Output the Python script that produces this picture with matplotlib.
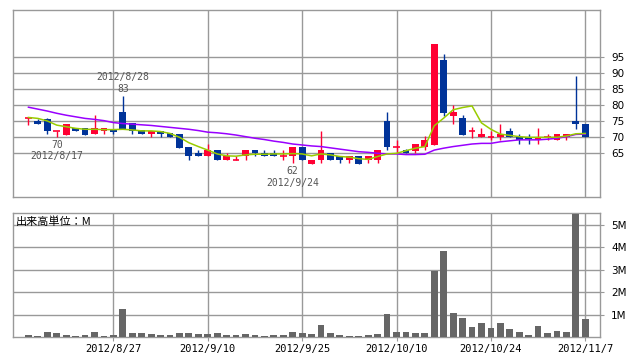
import matplotlib
matplotlib.use("Agg")
import matplotlib.pyplot as plt
import numpy as np

# trading days shown on the chart
dates = [
    "2012/8/14", "2012/8/15", "2012/8/16", "2012/8/17", "2012/8/20", "2012/8/21",
    "2012/8/22", "2012/8/23", "2012/8/24", "2012/8/27", "2012/8/28", "2012/8/29",
    "2012/8/30", "2012/8/31", "2012/9/3", "2012/9/4", "2012/9/5", "2012/9/6",
    "2012/9/7", "2012/9/10", "2012/9/11", "2012/9/12", "2012/9/13", "2012/9/14",
    "2012/9/18", "2012/9/19", "2012/9/20", "2012/9/21", "2012/9/24", "2012/9/25",
    "2012/9/26", "2012/9/27", "2012/9/28", "2012/10/1", "2012/10/2", "2012/10/3",
    "2012/10/4", "2012/10/5", "2012/10/9", "2012/10/10", "2012/10/11", "2012/10/12",
    "2012/10/15", "2012/10/16", "2012/10/17", "2012/10/18", "2012/10/19", "2012/10/22",
    "2012/10/23", "2012/10/24", "2012/10/25", "2012/10/26", "2012/10/29", "2012/10/30",
    "2012/10/31", "2012/11/1", "2012/11/2", "2012/11/5", "2012/11/6", "2012/11/7",
]

opens = [76, 75.2, 75.8, 72, 70.8, 73, 73, 71, 72, 72.3,
         78, 74.5, 72.2, 71, 72, 71.2, 71, 67, 65, 64,
         66, 62.8, 62.8, 64, 66, 65, 65, 64, 64, 67,
         61.8, 62.8, 65, 64, 62.8, 64, 62.8, 62.8, 75.2, 67,
         66, 65.8, 67, 67.6, 94.2, 76.7, 76, 72, 70, 70,
         70, 72, 70, 70, 69, 70, 69, 70, 75.2, 74.2]
highs = [76.2, 75.8, 76, 72.1, 74.2, 73, 73, 77, 73, 72.3,
         83, 74.5, 72.2, 72, 72, 71.2, 71, 67, 66, 68,
         66, 65, 64, 66, 66, 66, 66, 66, 67, 67,
         62.8, 72, 65, 64, 64, 64, 64, 66, 78, 69,
         66.2, 68, 70.3, 99.2, 96, 80, 77, 73.3, 72.8, 72,
         74, 72.9, 71, 71, 72.9, 71, 71, 71, 89.2, 74.2]
lows = [73.8, 74.1, 71, 70.2, 70.8, 72, 70.8, 71, 71, 71,
        72.6, 71, 71, 70, 70, 70, 66.8, 62.8, 64, 64,
        62.8, 62.8, 62.8, 62.8, 64, 64, 64, 62.8, 62, 62.8,
        61.8, 62, 62.8, 62, 62, 61.8, 62, 62, 66, 65,
        65, 65, 66, 67.6, 76.7, 74, 70.8, 69.9, 70, 69,
        69, 70, 68, 68, 68, 69, 69, 69, 72.7, 70]
closes = [76, 74.1, 72, 72, 74.2, 72, 70.8, 73, 73, 71.8,
          72.6, 72.1, 71, 72, 71, 70, 66.8, 64, 64, 66,
          62.8, 64, 62.8, 66, 65, 64, 64, 64, 67, 62.8,
          62.8, 66, 62.8, 62.8, 64, 61.8, 64, 66, 67, 67,
          65, 68, 69.2, 99.2, 77.7, 77.9, 70.8, 72, 71, 70,
          71, 70, 69.2, 69.6, 70, 70, 71, 71, 74, 70]

ma_short = [76.2, 75.9, 75.1, 73.8, 73.3, 72.8, 72.5, 72.5, 72.4, 72.4,
            72.5, 72.3, 72.0, 72.0, 71.8, 71.2, 70.0, 68.3, 67.1, 66.0,
            64.8, 64.2, 64.1, 64.5, 64.7, 64.7, 64.8, 64.8, 64.9, 64.8,
            64.2, 64.8, 64.5, 64.0, 63.8, 63.3, 63.1, 64.0, 64.8, 65.0,
            65.8, 66.6, 67.1, 73.6, 76.0, 78.6, 79.3, 79.8, 74.5, 72.5,
            71.0, 70.6, 70.2, 70.0, 70.0, 70.0, 70.0, 70.4, 71.1, 71.2]
ma_long = [79.4, 78.8, 78.2, 77.5, 76.9, 76.4, 75.9, 75.6, 75.2, 74.6,
           74.3, 74.1, 73.9, 73.7, 73.4, 73.1, 72.8, 72.5, 72.1, 71.6,
           71.4, 71.1, 70.7, 70.2, 69.7, 69.3, 68.8, 68.4, 67.9, 67.6,
           67.3, 67.1, 66.7, 66.3, 65.9, 65.5, 65.3, 65.0, 64.8, 64.8,
           64.6, 64.6, 64.7, 66.0, 66.6, 67.1, 67.5, 67.9, 68.1, 68.1,
           68.6, 68.9, 69.2, 69.2, 69.2, 69.4, 69.7, 70.2, 70.9, 71.0]

# volume in millions of shares
volume = [0.09, 0.045, 0.22, 0.18, 0.09, 0.045, 0.09, 0.22, 0.045, 0.09,
          1.24, 0.18, 0.18, 0.13, 0.09, 0.09, 0.18, 0.18, 0.13, 0.13,
          0.18, 0.09, 0.09, 0.13, 0.09, 0.045, 0.09, 0.09, 0.22, 0.18,
          0.13, 0.53, 0.18, 0.09, 0.045, 0.045, 0.09, 0.13, 1.02, 0.22,
          0.22, 0.18, 0.18, 2.93, 3.82, 1.07, 0.86, 0.44, 0.62, 0.40,
          0.62, 0.36, 0.22, 0.09, 0.49, 0.18, 0.27, 0.22, 5.47, 0.80]

price_ticks = [65, 70, 75, 80, 85, 90, 95]
vol_ticks = [1, 2, 3, 4, 5]
date_ticks = [9, 19, 29, 39, 49, 59]
# (index, label text, above/below)
notes = [(10, "2012/8/28\n83", "high"), (3, "70\n2012/8/17", "low"),
         (28, "62\n2012/9/24", "low")]

UP = "#ff0033"
DOWN = "#003399"
GRID = "#999999"

plt.rcParams["font.family"] = ["DejaVu Sans", "Noto Sans CJK JP"]

W, H = 638, 362
fig = plt.figure(figsize=(W / 100, H / 100), dpi=100)
fig.patch.set_facecolor("white")

left, right = 12.5 / W, 600 / W
ax1 = fig.add_axes([left, 1 - 197 / H, right - left, (197 - 10) / H])
ax2 = fig.add_axes([left, 1 - 337 / H, right - left, (337 - 212.5) / H])

x = np.arange(len(dates))
opens = np.array(opens)
closes = np.array(closes)
up = closes >= opens
colors = np.where(up, UP, DOWN)
bw = 0.72

# wicks
ax1.vlines(x, lows, highs, colors=colors, linewidth=1.0, zorder=3)
# bodies
body_lo = np.minimum(opens, closes)
body_h = np.abs(closes - opens)
is_doji = body_h < 0.15
ax1.bar(x[~is_doji], body_h[~is_doji], bottom=body_lo[~is_doji], width=bw,
        color=colors[~is_doji], linewidth=0, zorder=4)
ax1.hlines(opens[is_doji], x[is_doji] - bw / 2, x[is_doji] + bw / 2,
           colors=colors[is_doji], linewidth=1.2, zorder=4)

ax1.plot(x, ma_long, color="#9900ff", linewidth=1.1, zorder=5)
ax1.plot(x, ma_short, color="#99cc00", linewidth=1.1, zorder=5)

for idx, txt, kind in notes:
    if kind == "high":
        ax1.annotate(txt, (idx, highs[idx]), xytext=(0, 1.5), textcoords="offset points",
                     ha="center", va="bottom", fontsize=7, color="#555555",
                     family="DejaVu Sans Mono", linespacing=1.15)
    else:
        ax1.annotate(txt, (idx, lows[idx]), xytext=(0, -2.5), textcoords="offset points",
                     ha="center", va="top", fontsize=7, color="#555555",
                     family="DejaVu Sans Mono", linespacing=1.15)

ax2.bar(x, volume, width=bw, color="#666666", linewidth=0, zorder=3)
ax2.text(0.006, 0.93, "出来高単位：M", transform=ax2.transAxes, fontsize=8,
         family=["Noto Sans CJK JP", "DejaVu Sans"], ha="left", va="center")

for ax in (ax1, ax2):
    ax.set_xlim(-1.69, 60.56)
    ax.set_xticks(date_ticks)
    ax.grid(True, color=GRID, linewidth=1.0)
    ax.set_axisbelow(True)
    for sp in ax.spines.values():
        sp.set_color(GRID)
        sp.set_linewidth(1.0)
    ax.yaxis.tick_right()
    ax.tick_params(axis="y", length=3, color=GRID, labelsize=7.5, pad=5)
    ax.tick_params(axis="x", length=3, color=GRID, labelsize=7.5, pad=2)

ax1.set_ylim(51.34, 109.78)
ax1.set_yticks(price_ticks)
ax1.set_xticklabels([])
ax1.tick_params(axis="x", length=0)

ax2.set_ylim(0, 5.54)
ax2.set_yticks(vol_ticks)
ax2.set_yticklabels([f"{v}M" for v in vol_ticks])
ax2.set_xticklabels([dates[i] for i in date_ticks], family="DejaVu Sans Mono")

fig.savefig("out.png", dpi=100)
